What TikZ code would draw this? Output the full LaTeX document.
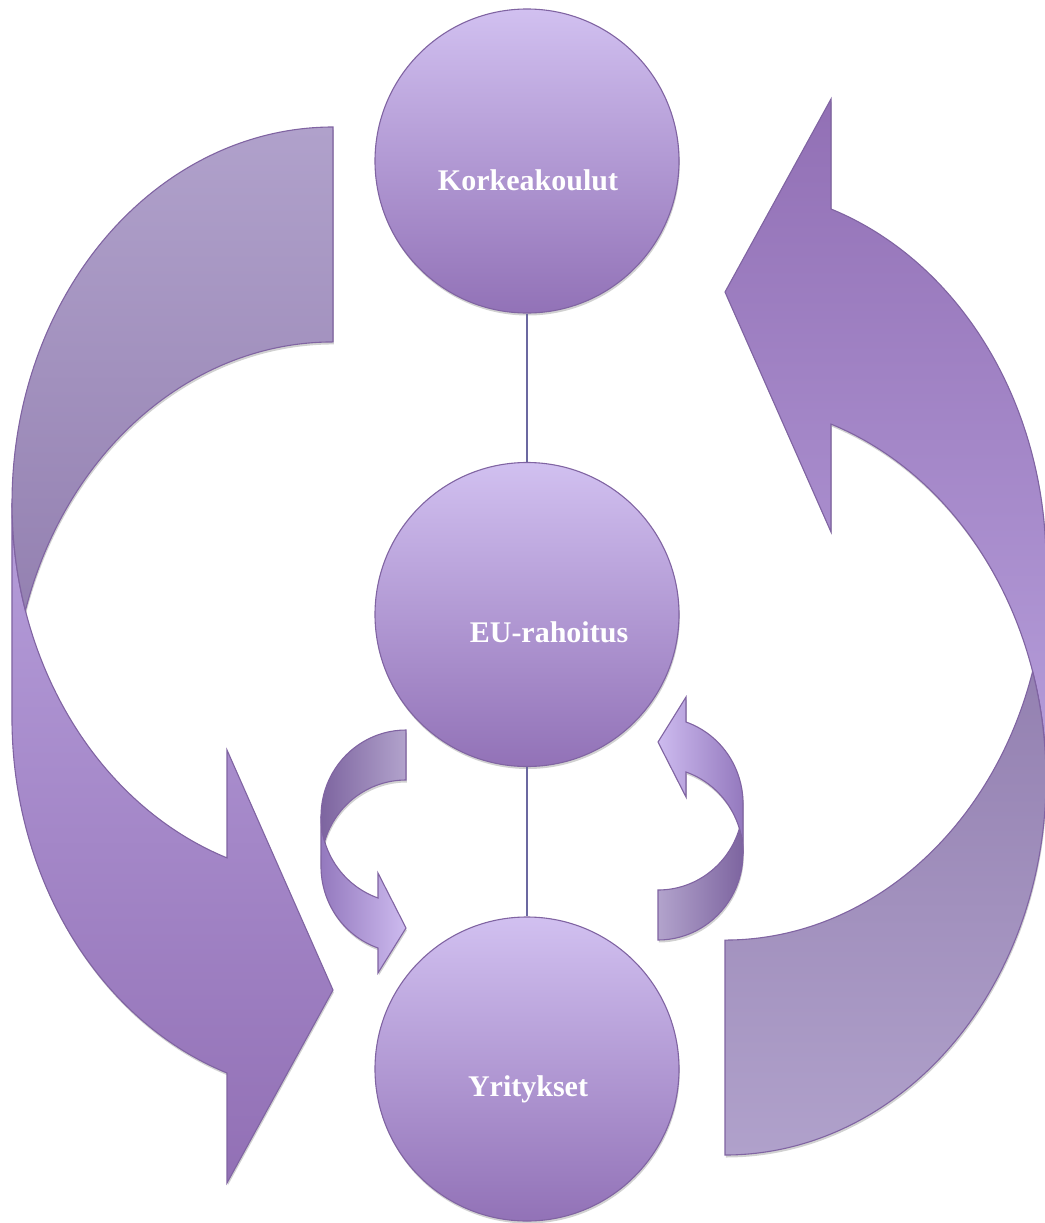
\documentclass[tikz,border=0pt]{standalone}
\usepackage{fontspec}
\setmainfont{Liberation Serif}
\usetikzlibrary{shadows}
\definecolor{edgeC}{HTML}{8064A2}
\definecolor{lineC}{HTML}{6B68A0}
\definecolor{circTop}{HTML}{D1C0F0}
\definecolor{circBot}{HTML}{9272B7}
\definecolor{backLight}{HTML}{B0A1CB}
\definecolor{backDark}{HTML}{9481B1}
\definecolor{frontLight}{HTML}{B59DDA}
\definecolor{frontDark}{HTML}{9270B5}
\definecolor{sBackDark}{HTML}{7B629E}
\definecolor{sBackLight}{HTML}{B2A3CC}
\definecolor{sFrontDark}{HTML}{9479BE}
\definecolor{sFrontLight}{HTML}{CDBBEF}
\begin{document}
\begin{tikzpicture}[x=1pt,y=-1pt,
  shp/.style={draw=edgeC, line width=1.1pt, line join=miter,
    drop shadow={shadow xshift=0.8pt, shadow yshift=-2.5pt, opacity=0.18, fill=black}},
  circ/.style={circle, minimum size=304pt, inner sep=0pt, draw=edgeC, line width=1.1pt,
    top color=circTop, bottom color=circBot,
    drop shadow={shadow xshift=0.8pt, shadow yshift=-2.5pt, opacity=0.18, fill=black}},
  lbl/.style={text=white, font=\fontsize{30}{36}\selectfont\bfseries, inner sep=0pt, anchor=base},
  conn/.style={draw=lineC, line width=1.5pt}]
\useasboundingbox (0,0) rectangle (1044,1223);

% big left arrow (front part, then back part)
\path[shp, top color=frontLight, bottom color=frontDark]
  (12,503) arc[start angle=180, end angle=109.28, x radius=321, y radius=376]
  -- (227,750) -- (333,990) -- (227,1183) -- (227,1073)
  arc[start angle=109.28, end angle=180, x radius=321, y radius=376] -- cycle;
\path[shp, top color=backLight, bottom color=backDark]
  (333,127) arc[start angle=270, end angle=163.39, x radius=321, y radius=376]
  arc[start angle=196.61, end angle=270, x radius=321, y radius=376] -- cycle;

% big right arrow
\path[shp, top color=frontDark, bottom color=frontLight]
  (1046,779) arc[start angle=0, end angle=-70.72, x radius=321, y radius=376]
  -- (831,532) -- (725,292) -- (831,99) -- (831,209)
  arc[start angle=-70.72, end angle=0, x radius=321, y radius=376] -- cycle;
\path[shp, top color=backDark, bottom color=backLight]
  (725,1155) arc[start angle=90, end angle=-16.61, x radius=321, y radius=376]
  arc[start angle=16.61, end angle=90, x radius=321, y radius=376] -- cycle;

% small left arrow
\path[shp, left color=sFrontDark, right color=sFrontLight]
  (321,816.4) arc[start angle=180, end angle=109.23, x radius=85, y radius=86.4]
  -- (378,873) -- (406,928) -- (378,973) -- (378,948)
  arc[start angle=109.23, end angle=180, x radius=85, y radius=86.4] -- cycle;
\path[shp, left color=sBackDark, right color=sBackLight]
  (406,730) arc[start angle=270, end angle=163.18, x radius=85, y radius=86.4]
  arc[start angle=196.82, end angle=270, x radius=85, y radius=86.4] -- cycle;

% small right arrow
\path[shp, left color=sFrontLight, right color=sFrontDark]
  (743,853.6) arc[start angle=0, end angle=-70.77, x radius=85, y radius=86.4]
  -- (686,797) -- (658,742) -- (686,697) -- (686,722)
  arc[start angle=-70.77, end angle=0, x radius=85, y radius=86.4] -- cycle;
\path[shp, left color=sBackLight, right color=sBackDark]
  (658,940) arc[start angle=90, end angle=-16.82, x radius=85, y radius=86.4]
  arc[start angle=16.82, end angle=90, x radius=85, y radius=86.4] -- cycle;

% circles
\node[circ] (k) at (527,161) {};
\node[circ] (eu) at (527,614.5) {};
\node[circ] (y) at (527,1069) {};

\draw[conn] (k.south) -- (eu.north);
\draw[conn] (eu.south) -- (y.north);

\node[lbl] (kt) at (528,190) {Korkeakoulut};
\node[lbl] (eut) at (549,642) {EU-rahoitus};
\node[lbl] (yt) at (528,1096) {Yritykset};
\end{tikzpicture}
\end{document}
